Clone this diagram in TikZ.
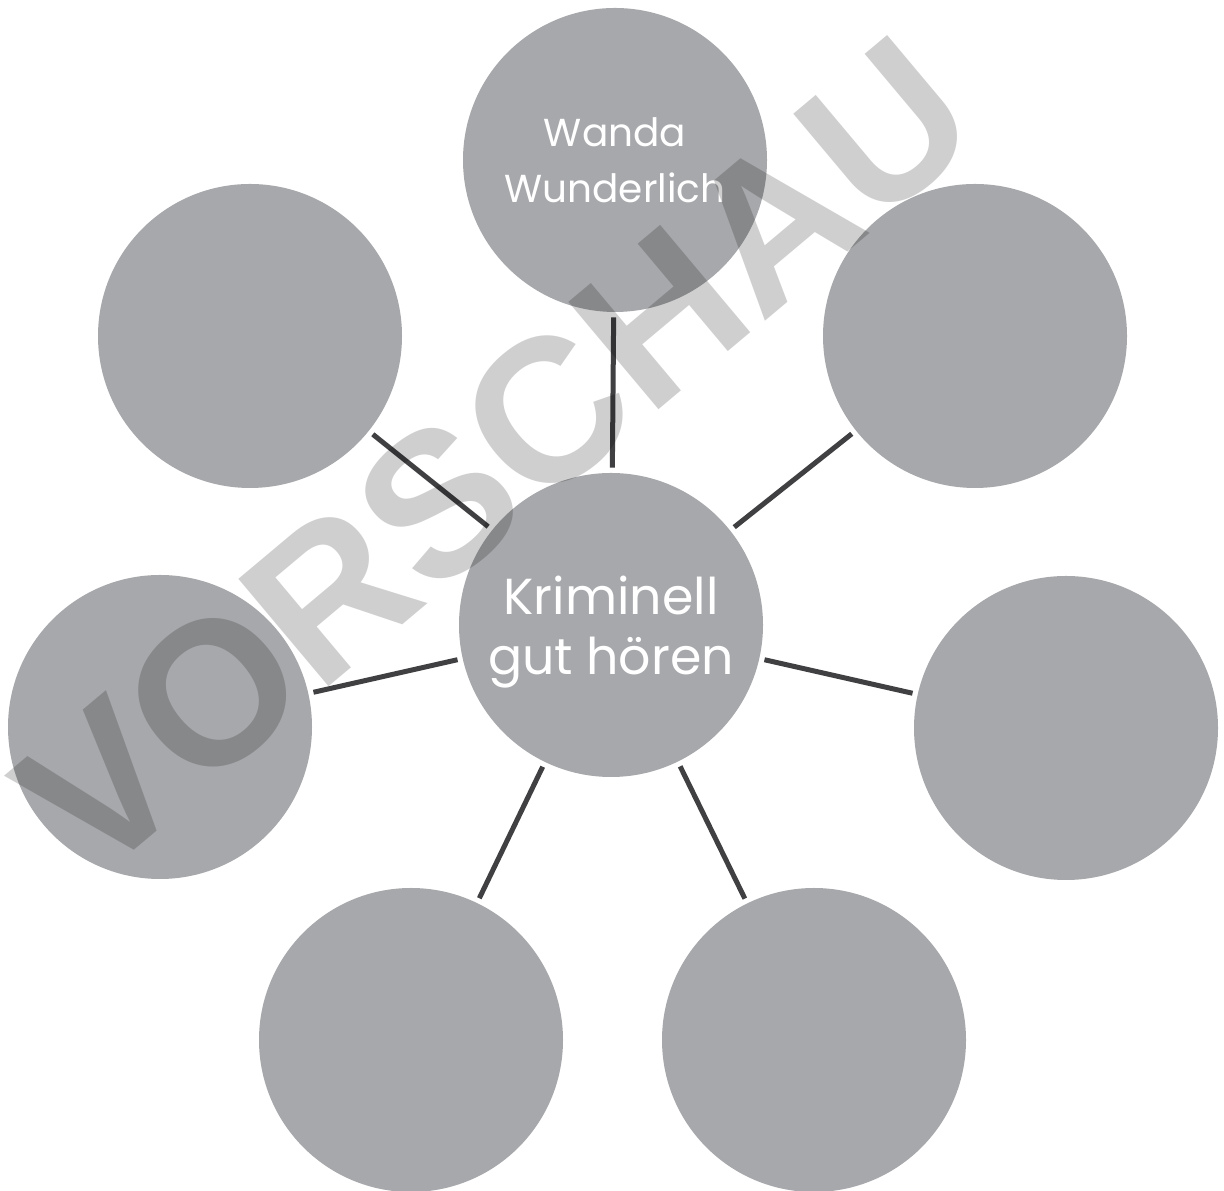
\documentclass[tikz,border=0pt]{standalone}
\usepackage{fontspec}
\setmainfont{Poppins}
\newfontfamily\markfont{Liberation Sans}
\usetikzlibrary{positioning}
\definecolor{bubblegray}{RGB}{167,168,171}
\definecolor{linkgray}{RGB}{64,64,66}
\tikzset{
  bubble/.style={circle,fill=bubblegray,draw=none,minimum size=6.08cm,inner sep=0pt,text=white,align=center},
  hub/.style={bubble,text depth=0pt,font=\fontsize{28.8}{34.1}\selectfont},
  namebubble/.style={bubble,font=\fontsize{22.2}{31.6}\selectfont},
  link/.style={draw=linkgray,line width=0.1cm,shorten <=0.1cm,shorten >=0.1cm},
  stamp/.style={rotate=40,text=black,text opacity=0.19,inner sep=0pt,font=\markfont\bfseries\fontsize{116}{116}\selectfont}
}

\begin{document}
\begin{tikzpicture}
  \useasboundingbox (0,0) rectangle (24.48,23.82);
  % centre and the seven bubbles round it
  \node[hub] (hub) at (12.22,11.32) {Kriminell\\gut hören};
  \node[namebubble] (wanda) at (12.30,20.62) {Wanda\\Wunderlich};
  \node[bubble] (upleft) at (5.00,17.10) {};
  \node[bubble] (upright) at (19.50,17.10) {};
  \node[bubble] (left) at (3.20,9.28) {};
  \node[bubble] (right) at (21.32,9.26) {};
  \node[bubble] (lowleft) at (8.22,3.02) {};
  \node[bubble] (lowright) at (16.28,3.02) {};

  \foreach \b in {wanda,upleft,upright,left,right,lowleft,lowright}
    \draw[link] (hub) -- (\b);

  % watermark
  \node[stamp] (mark) at (9.90,14.70) {VORSCHAU};
\end{tikzpicture}
\end{document}
